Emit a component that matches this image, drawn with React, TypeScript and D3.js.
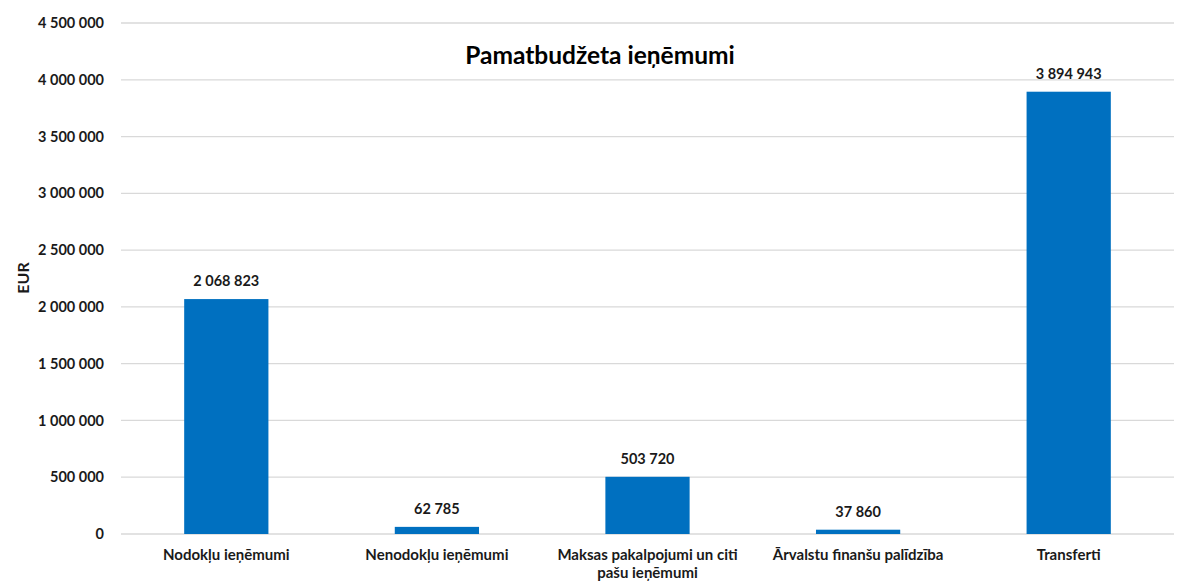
import React from "react";
import * as d3 from "d3";

const categories = [
  ["Nodokļu ieņēmumi"],
  ["Nenodokļu ieņēmumi"],
  ["Maksas pakalpojumi un citi", "pašu ieņēmumi"],
  ["Ārvalstu finanšu palīdzība"],
  ["Transferti"],
];
const values = [2068823, 62785, 503720, 37860, 3894943];
const yTicks = [0, 500000, 1000000, 1500000, 2000000, 2500000, 3000000, 3500000, 4000000, 4500000];
const title = "Pamatbudžeta ieņēmumi";
const yLabel = "EUR";

const W = 1192, H = 583;
const m = { left: 121, right: 18, top: 23, bottom: 49 };
const FONT = "Lato, 'Open Sans', sans-serif";

const fmt = (v: number) => d3.format(",")(v).replace(/,/g, " ");

export default function App() {
  const x = d3
    .scaleBand<number>()
    .domain(values.map((_, i) => i))
    .range([m.left, W - m.right])
    .paddingInner(0.6)
    .paddingOuter(0.3);
  const y = d3.scaleLinear().domain([0, 4500000]).range([H - m.bottom, m.top]);

  return (
    <svg width={W} height={H} style={{ position: "absolute", left: 0, top: 0 }} fontFamily={FONT}>
      <rect width={W} height={H} fill="#fff" />
      {yTicks.map((t) => (
        <g key={t}>
          <line x1={m.left} x2={W - m.right} y1={y(t)} y2={y(t)} stroke="#d9d9d9" strokeWidth={1.3} />
          <text x={104} y={y(t)} dy="0.35em" textAnchor="end" fontSize={14.5} fontWeight="bold" fill="#1a1a1a">
            {fmt(t)}
          </text>
        </g>
      ))}
      <text x={600} y={55} dy="0.35em" textAnchor="middle" fontSize={24.5} fontWeight="bold" fill="#000">
        {title}
      </text>
      <text
        transform={`translate(23,${278}) rotate(-90)`}
        textAnchor="middle"
        dy="0.35em"
        fontSize={16}
        fontWeight="bold"
        fill="#1a1a1a"
      >
        {yLabel}
      </text>
      {values.map((v, i) => (
        <g key={i}>
          <rect
            x={x(i)!}
            y={y(v)}
            width={x.bandwidth()}
            height={y(0) - y(v)}
            fill="#0070C0"
          />
          <text
            x={x(i)! + x.bandwidth() / 2}
            y={y(v) - 18}
            dy="0.35em"
            textAnchor="middle"
            fontSize={14.5}
            fontWeight="bold"
            fill="#1a1a1a"
          >
            {fmt(v)}
          </text>
          {categories[i].map((line, j) => (
            <text
              key={j}
              x={x(i)! + x.bandwidth() / 2}
              y={y(0) + 21 + j * 18}
              dy="0.35em"
              textAnchor="middle"
              fontSize={15}
              fontWeight="bold"
              fill="#1a1a1a"
            >
              {line}
            </text>
          ))}
        </g>
      ))}
    </svg>
  );
}
